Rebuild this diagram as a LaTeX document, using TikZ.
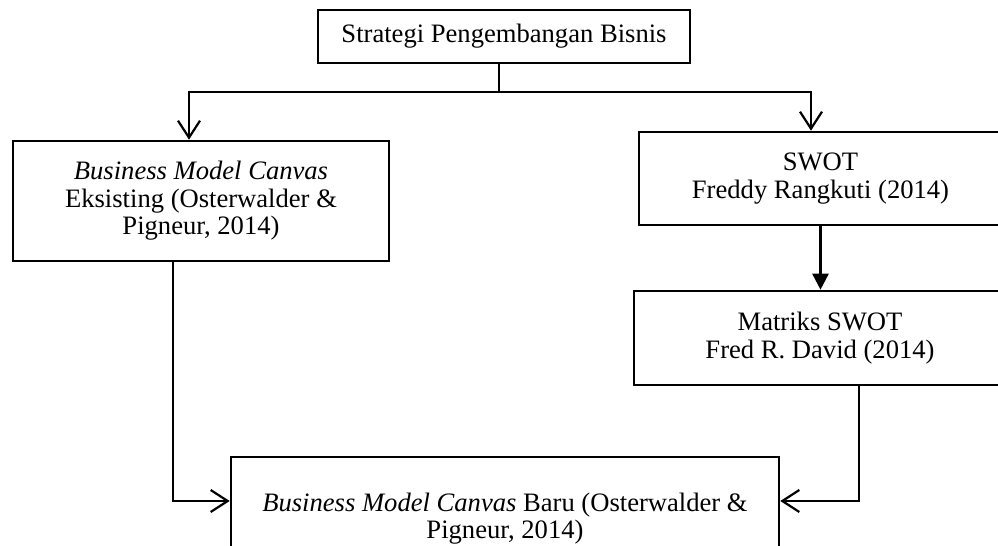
\documentclass[tikz,border=0pt]{standalone}
\usepackage{fontspec}
\setmainfont{Liberation Serif}
\usepackage{tikz}
\usetikzlibrary{arrows.meta,positioning}

\begin{document}
\begin{tikzpicture}[
  x=0.5pt,y=-0.5pt,
  box/.style={rectangle,draw,line width=1.3pt,align=center,
              font=\fontsize{13.3}{13.8}\selectfont,inner sep=0pt},
  arr/.style={-{Straight Barb[length=8.5pt,width=11pt,line width=1.1pt]},line width=1.3pt},
  farr/.style={-{Triangle[length=8pt,width=8pt]},line width=1.3pt}
]
\clip (0,0) rectangle (998,546);
\node[box,minimum width=186pt,minimum height=26.5pt] (strat) at (504,36.5)
  {Strategi Pengembangan Bisnis};
\node[box,minimum width=188pt,minimum height=60pt] (bmcold) at (201,201)
  {\textit{Business Model Canvas}\\Eksisting (Osterwalder \&\\Pigneur, 2014)};
\node[box,minimum width=181.5pt,minimum height=46.5pt] (swot) at (820.5,178.5)
  {SWOT\\Freddy Rangkuti (2014)};
\node[box,minimum width=186pt,minimum height=47pt] (matriks) at (820,338)
  {Matriks SWOT\\Fred R. David (2014)};
\node[box,minimum width=274pt,minimum height=61.5pt] (bmcnew) at (505,518.5)
  {\textit{Business Model Canvas} Baru (Osterwalder \&\\Pigneur, 2014)};
\coordinate (split) at (499,92);

\draw[line width=1.3pt] (strat.south -| split) -- (split);
\draw[arr] (split) -| ([xshift=-6pt]bmcold.north);
\draw[arr] (split) -| ([xshift=-4.75pt]swot.north);
\draw[farr] (swot.south) -- (swot.south |- matriks.north);
\draw[arr] ([xshift=-14pt]bmcold.south) |- ([yshift=8.75pt]bmcnew.west);
\draw[arr] ([xshift=19.5pt]matriks.south) |- ([yshift=8.75pt]bmcnew.east);
\end{tikzpicture}
\end{document}
